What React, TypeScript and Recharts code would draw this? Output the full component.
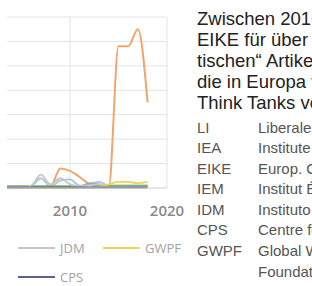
import React from "react";
import { LineChart, Line, XAxis, YAxis, CartesianGrid } from "recharts";

const years = [2000, 2001, 2002, 2003, 2004, 2005, 2006, 2007, 2008, 2009, 2010, 2011, 2012, 2013, 2014, 2015, 2016, 2017, 2018];

const eike = [0, 0, 0, 0, 0, 0, 0, 0, 0.5, 8, 7, 4.5, 1.5, 0.5, 0.5, 58, 58, 65, 35];
const li = [0.5, 0.5, 0.5, 0.5, 0.5, 0.5, 0.8, 4, 0.5, 3, 3.5, 1, 1.5, 2.5, 1, 1, 1, 1, 1];
const iea = [0.3, 0.3, 0.3, 0.3, 0.3, 0.3, 0.3, 0.5, 0.5, 0.5, 0.5, 0.5, 2, 1.5, 0.5, 0.5, 0.5, 0.5, 0.5];
const idm = [0.8, 0.8, 0.8, 0.8, 0.8, 0.8, 0.8, 0.8, 0.8, 0.8, 0.8, 0.8, 1.2, 1.2, 1, 1, 1, 1, 1];
const jdm = [0.3, 0.3, 0.3, 0.3, 0.3, 0.3, 1, 5.5, 1.5, 4, 1.5, 0.8, 1.2, 1.5, 0.5, 0.5, 0.5, 0.5, 0.5];
const gwpf = [0, 0, 0, 0, 0, 0, 0, 0, 0, 0, 0, 0, 0, 0.5, 1.5, 2.5, 2.5, 2, 2.5];
const cps = [0.2, 0.2, 0.2, 0.2, 0.2, 0.2, 0.2, 0.2, 0.2, 0.2, 0.2, 0.2, 0.2, 0.2, 0.2, 0.2, 0.2, 0.2, 0.2];

const xTicks = [2010, 2020];
const yTicks = [0, 10, 20, 30, 40, 50, 60, 70];

const seriesNames = ["EIKE", "LI", "IEA", "IDM", "JDM", "GWPF", "CPS"];
const seriesValues = [eike, li, iea, idm, jdm, gwpf, cps];
const seriesColors = ["#f2a46c", "#a9c8e8", "#9aa6c4", "#7fb45a", "#c6c6c6", "#f0d45a", "#5b608f"];

const legendRows = [["EIKE", "IEA", "JDM", "GWPF"], ["IDM", "LI", "CPS"]];

const paragraph = [
  "Zwischen 2010 und 2018 war das",
  "EIKE für über 80 Prozent der „skep-",
  "tischen“ Artikel verantwortlich,",
  "die in Europa von klimaskeptischen",
  "Think Tanks veröffentlicht wurden:",
];

const abbrevs = ["LI", "IEA", "EIKE", "IEM", "IDM", "CPS", "GWPF", ""];
const fullNames = [
  "Liberales Institut",
  "Institute of Economic Affairs",
  "Europ. Climate & Energy Institute",
  "Institut Économique Molinari",
  "Instituto Juan de Mariana",
  "Centre for Policy Studies",
  "Global Warming Policy",
  "Foundation",
];

const data = years.map((year, i) => {
  const row: Record<string, number> = { year };
  seriesNames.forEach((n, k) => {
    row[n] = seriesValues[k][i];
  });
  return row;
});

export default function App() {
  return (
    <div
      style={{
        position: "absolute",
        left: 0,
        top: 0,
        width: 312,
        height: 286,
        overflow: "hidden",
        background: "#fff",
        fontFamily: "'Liberation Sans', Arial, sans-serif",
      }}
    >
      <div style={{ position: "absolute", left: 7, top: 0, width: 200, height: 230, overflow: "hidden" }}>
        <div style={{ position: "absolute", left: -47, top: 0 }}>
          <LineChart
            width={240}
            height={218}
            data={data}
            margin={{ top: 17, right: 33, left: 13, bottom: 0 }}
          >
            <CartesianGrid stroke="#e4e4e4" strokeWidth={1} />
            <XAxis
              dataKey="year"
              type="number"
              domain={[2000, 2020]}
              ticks={xTicks}
              height={30}
              tickLine={false}
              tickSize={0}
              tickMargin={17}
              axisLine={{ stroke: "#d9d9d9" }}
              tick={{ fill: "#8a8a8a", fontSize: 15, fontFamily: "'Open Sans', sans-serif", fontWeight: 600 }}
              interval={0}
            />
            <YAxis hide domain={[0, 70]} ticks={yTicks} />
            {seriesNames.map((n, k) => (
              <Line
                key={n}
                type="monotone"
                dataKey={n}
                stroke={seriesColors[k]}
                strokeWidth={n === "EIKE" ? 2 : 1.8}
                dot={false}
                isAnimationActive={false}
              />
            ))}
          </LineChart>
        </div>
      </div>

      <div style={{ position: "absolute", left: 10, top: 230, width: 180, height: 56, overflow: "hidden" }}>
        {legendRows.map((row, r) =>
          row.map((name, c) => {
            const k = seriesNames.indexOf(name);
            const left = 18 + 85 * (c - 2) - 10;
            return (
              <div
                key={name}
                style={{
                  position: "absolute",
                  left,
                  top: 18 + r * 29 - 9,
                  height: 18,
                  display: "flex",
                  alignItems: "center",
                  whiteSpace: "nowrap",
                }}
              >
                <div style={{ width: 37, height: 2, background: seriesColors[k] }} />
                <span
                  style={{
                    marginLeft: 5,
                    fontSize: 13,
                    color: "#a3a3a3",
                    fontFamily: "'Open Sans', sans-serif",
                  }}
                >
                  {name}
                </span>
              </div>
            );
          })
        )}
      </div>

      <div
        style={{
          position: "absolute",
          left: 197,
          top: 8,
          fontSize: 18.5,
          lineHeight: "21px",
          color: "#222",
          whiteSpace: "nowrap",
        }}
      >
        {paragraph.map((l, i) => (
          <div key={i}>{l}</div>
        ))}
      </div>

      <div
        style={{
          position: "absolute",
          left: 197,
          top: 117.5,
          fontSize: 15,
          lineHeight: "20.6px",
          color: "#555",
          whiteSpace: "nowrap",
        }}
      >
        {fullNames.map((nm, i) => (
          <div key={i} style={{ position: "relative", height: 20.6 }}>
            <span style={{ position: "absolute", left: 0 }}>{abbrevs[i]}</span>
            <span style={{ position: "absolute", left: 61 }}>{nm}</span>
          </div>
        ))}
      </div>
    </div>
  );
}
